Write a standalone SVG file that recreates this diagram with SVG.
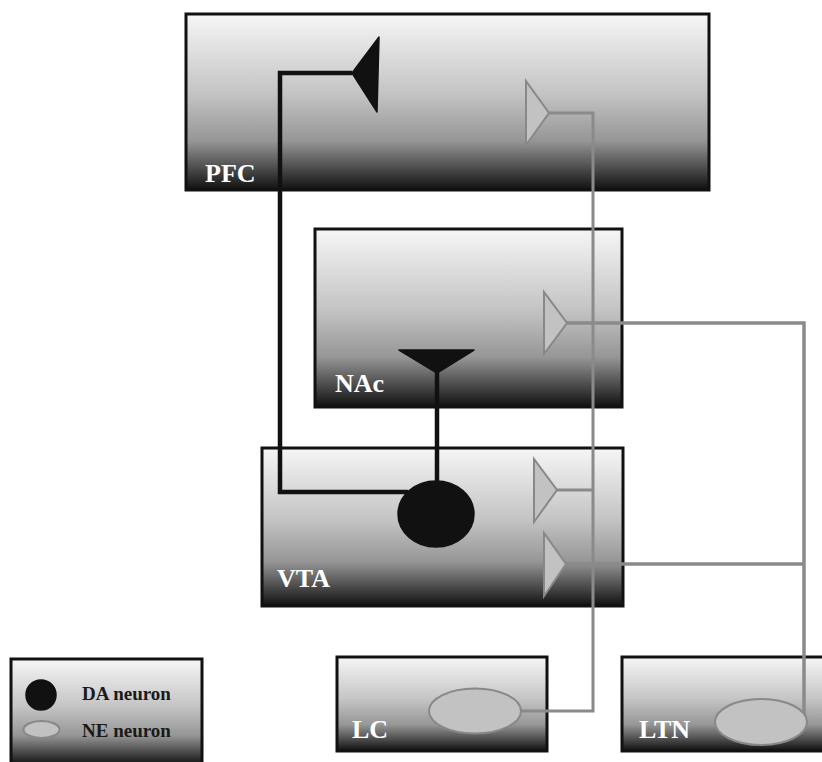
<svg xmlns="http://www.w3.org/2000/svg" width="822" height="762" viewBox="0 0 822 762">
<defs>
<linearGradient id="boxGrad" x1="0" y1="0" x2="0" y2="1">
<stop offset="0" stop-color="#f6f6f6"/>
<stop offset="0.45" stop-color="#c4c4c4"/>
<stop offset="0.72" stop-color="#969696"/>
<stop offset="0.88" stop-color="#4a4a4a"/>
<stop offset="1" stop-color="#101010"/>
</linearGradient>
</defs>
<style>
.box{fill:url(#boxGrad);stroke:#111;stroke-width:3}
.lbl{font-family:"Liberation Serif","Times New Roman",serif;font-weight:bold;font-size:26px;fill:#fff}
.leg{font-family:"Liberation Serif","Times New Roman",serif;font-weight:bold;font-size:19px;fill:#1a1a1a}
.da{fill:#111;stroke:#111;stroke-width:1.5;stroke-linejoin:round}
.ne{fill:#c2c2c2;stroke:#888;stroke-width:2}
.blk{fill:none;stroke:#111;stroke-width:4.5}
.gry{fill:none;stroke:#8a8a8a;stroke-width:3}
.gry2{fill:none;stroke:#8a8a8a;stroke-width:3.5}
</style>
<rect width="822" height="762" fill="#fff"/>
<g id="PFC">
<rect class="box" x="186" y="14" width="523" height="176"/>
<text class="lbl" x="205" y="182">PFC</text>
</g>
<g id="NAc">
<rect class="box" x="315" y="229" width="307" height="178"/>
<text class="lbl" x="335" y="392">NAc</text>
</g>
<g id="VTA">
<rect class="box" x="262" y="448" width="361" height="158"/>
<text class="lbl" x="277" y="587">VTA</text>
</g>
<g id="LC">
<rect class="box" x="337" y="657" width="210" height="94"/>
<text class="lbl" x="352" y="738">LC</text>
</g>
<g id="LTN">
<rect class="box" x="622" y="657" width="210" height="94"/>
<text class="lbl" x="639" y="738">LTN</text>
</g>
<g id="legend">
<rect class="box" x="11" y="659" width="191" height="106"/>
<circle class="da" cx="41" cy="695" r="15"/>
<ellipse class="ne" cx="41.5" cy="729.5" rx="18" ry="8.5"/>
<text class="leg" x="82" y="700">DA neuron</text>
<text class="leg" x="82" y="737">NE neuron</text>
</g>
<g id="connectors">
<polyline class="blk" points="352,73 280,73 280,492 408,492"/>
<line class="blk" x1="437" y1="372" x2="437" y2="482"/>
<polyline class="gry" points="549,113 593,113 593,711 521,711"/>
<line class="gry" x1="557" y1="490" x2="593" y2="490"/>
<polyline class="gry2" points="567,323 804,323 804,716"/>
<line class="gry2" x1="566" y1="564" x2="804" y2="564"/>
</g>
<g id="neurons">
<polygon id="pfc-da" class="da" points="352,73 379,37 377,112"/>
<polygon id="nac-da" class="da" points="399,350 474,350 437,373"/>
<ellipse id="vta-da" class="da" cx="436" cy="514" rx="38" ry="33"/>
<polygon id="pfc-ne" class="ne" points="526,81 526,145 549,113"/>
<polygon id="nac-ne" class="ne" points="544,292 544,354 567,323"/>
<polygon id="vta-ne1" class="ne" points="534,459 534,522 557,490"/>
<polygon id="vta-ne2" class="ne" points="544,533 544,596 566,564"/>
<ellipse id="lc-ne" class="ne" cx="475" cy="711" rx="46" ry="22.5"/>
<ellipse id="ltn-ne" class="ne" cx="761" cy="722" rx="46" ry="23"/>
</g>
</svg>
